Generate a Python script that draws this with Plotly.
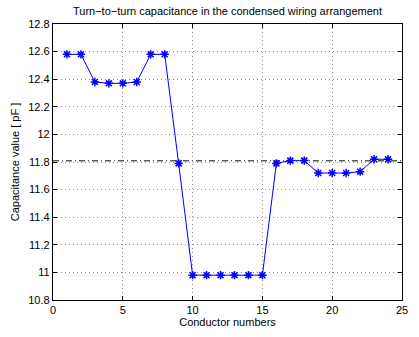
import plotly.graph_objects as go

# Turn-to-turn capacitance per conductor (pF)
conductors = list(range(1, 25))
capacitance = [12.58, 12.58, 12.38, 12.37, 12.37, 12.38, 12.58, 12.58,
               11.79, 10.98, 10.98, 10.98, 10.98, 10.98, 10.98,
               11.79, 11.81, 11.81, 11.72, 11.72, 11.72, 11.73, 11.82, 11.82]
mean_value = sum(capacitance) / len(capacitance)
mean_x = [0, 25]
mean_y = [mean_value, mean_value]

y_ticks = [10.8, 11, 11.2, 11.4, 11.6, 11.8, 12, 12.2, 12.4, 12.6, 12.8]
y_labels = ["10.8", "11", "11.2", "11.4", "11.6", "11.8", "12", "12.2", "12.4", "12.6", "12.8"]
x_ticks = [0, 5, 10, 15, 20, 25]

font = "Liberation Sans, Arial, sans-serif"

fig = go.Figure()
fig.add_trace(go.Scatter(
    x=mean_x, y=mean_y, mode="lines",
    line=dict(color="#5a5a5a", width=1.5, dash="6px,3px,1px,3px"),
    hoverinfo="skip", showlegend=False))
fig.add_trace(go.Scatter(
    x=conductors, y=capacitance, mode="lines+markers",
    line=dict(color="#0000ff", width=1),
    marker=dict(symbol="asterisk-open", size=7, color="#0000ff",
                line=dict(color="#0000ff", width=1.5)),
    showlegend=False))

axis_common = dict(
    showline=True, linecolor="black", linewidth=1.3, mirror="ticks",
    ticks="inside", ticklen=4, tickcolor="black",
    showgrid=True, gridcolor="#8a8a8a", griddash="1px,3px", gridwidth=1,
    zeroline=False, tickfont=dict(size=11, color="black", family=font),
)

fig.update_layout(
    width=419, height=337,
    margin=dict(l=53, r=11, t=24, b=34),
    paper_bgcolor="white", plot_bgcolor="white",
    font=dict(family=font, size=11, color="black"),
    title=dict(text="Turn\u2212to\u2212turn capacitance in the condensed wiring arrangement",
               x=0.5, xref="paper", y=1, yref="container", yanchor="top",
               pad=dict(t=7), font=dict(size=11, family=font)),
    xaxis=dict(range=[0, 25], tickvals=x_ticks,
               title=dict(text="Conductor numbers", standoff=2,
                          font=dict(size=11, family=font)),
               **axis_common),
    yaxis=dict(range=[10.8, 12.8], tickvals=y_ticks, ticktext=y_labels,
               title=dict(text="Capacitance value [ pF ]", standoff=6,
                          font=dict(size=11, family=font)),
               **axis_common),
)

fig.write_html("out.html")
